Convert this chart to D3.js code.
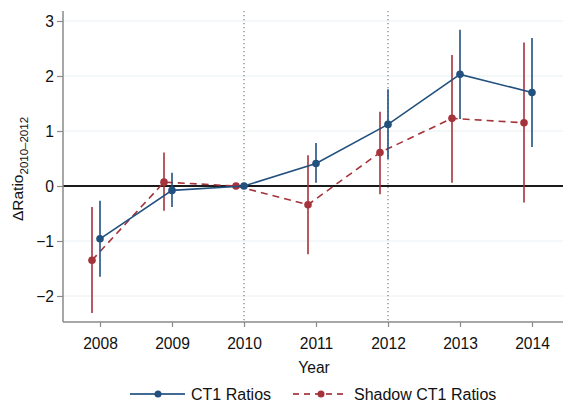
<!DOCTYPE html>
<html>
<head>
<meta charset="utf-8">
<script src="https://cdn.jsdelivr.net/npm/d3@7"></script>
<style>
  body { margin: 0; background: #fff; }
  svg text { font-family: "Liberation Sans", Arial, sans-serif; fill: #111; }
</style>
</head>
<body>
<svg id="chart" width="563" height="401"></svg>
<script>
// Event-study estimates of the change in capital ratios relative to 2010–2012
const years = [2008, 2009, 2010, 2011, 2012, 2013, 2014];

const ct1Est   = [-0.96, -0.08, 0, 0.41, 1.12, 2.03, 1.70];
const ct1Low   = [-1.65, -0.38, 0, 0.06, 0.49, 1.22, 0.71];
const ct1High  = [-0.27,  0.24, 0, 0.78, 1.76, 2.84, 2.69];

const shadowEst  = [-1.35, 0.07, 0, -0.34, 0.61, 1.23, 1.15];
const shadowLow  = [-2.31, -0.45, 0, -1.24, -0.15, 0.06, -0.30];
const shadowHigh = [-0.38, 0.61, 0, 0.56, 1.35, 2.38, 2.61];

const yTicks = [-2, -1, 0, 1, 2, 3];
const markerYears = [2010, 2012];

const seriesNames = ["CT1 Ratios", "Shadow CT1 Ratios"];

const svg = d3.select("#chart");
const axisColor = "#8a8a8a";
const blue = "#22507f";
const red = "#a5333b";
const tickFont = 15.6;

const x = d3.scaleLinear().domain([2007.5, 2014.5]).range([64, 568]);
const y = d3.scaleLinear().domain([-2, 3]).range([296, 21]);
const plotTop = 11, plotBottom = 322, plotLeft = 63, plotRight = 563;

// horizontal grid
svg.append("g").selectAll("line").data(yTicks).join("line")
  .attr("x1", plotLeft).attr("x2", plotRight)
  .attr("y1", d => y(d)).attr("y2", d => y(d))
  .attr("stroke", "#e9f0f3").attr("stroke-width", 1);

// dotted reference years
svg.append("g").selectAll("line").data(markerYears).join("line")
  .attr("x1", d => x(d)).attr("x2", d => x(d))
  .attr("y1", plotTop).attr("y2", plotBottom)
  .attr("stroke", "#7d7d7d").attr("stroke-width", 1.2)
  .attr("stroke-dasharray", "1.2,2.8");

// zero line
svg.append("line")
  .attr("x1", plotLeft).attr("x2", plotRight)
  .attr("y1", y(0)).attr("y2", y(0))
  .attr("stroke", "#1a1a1a").attr("stroke-width", 2);

// axes
const yAxis = d3.axisLeft(y).tickValues(yTicks).tickSize(6).tickPadding(3)
  .tickFormat(d => d < 0 ? "\u2212" + Math.abs(d) : String(d));
const gy = svg.append("g").attr("transform", `translate(${plotLeft},0)`).call(yAxis);
gy.select(".domain").remove();
gy.append("line").attr("x1", 0).attr("x2", 0).attr("y1", plotTop).attr("y2", plotBottom)
  .attr("stroke", axisColor).attr("stroke-width", 1.5);
gy.selectAll(".tick line").attr("stroke", axisColor).attr("stroke-width", 1.2);
gy.selectAll(".tick text").attr("font-size", tickFont).style("fill", "#111");

const xAxis = d3.axisBottom(x).tickValues(years).tickSize(5).tickPadding(11)
  .tickFormat(d3.format("d"));
const gx = svg.append("g").attr("transform", `translate(0,${plotBottom})`).call(xAxis);
gx.select(".domain").remove();
gx.append("line").attr("x1", plotLeft).attr("x2", plotRight).attr("y1", 0).attr("y2", 0)
  .attr("stroke", axisColor).attr("stroke-width", 1.5);
gx.selectAll(".tick line").attr("stroke", axisColor).attr("stroke-width", 1.2);
gx.selectAll(".tick text").attr("font-size", tickFont).style("fill", "#111");

// axis titles
svg.append("text").attr("x", 314).attr("y", 373).attr("text-anchor", "middle")
  .attr("font-size", tickFont).text("Year");

const yl = svg.append("text")
  .attr("transform", "translate(23,169) rotate(-90)")
  .attr("text-anchor", "middle").attr("font-size", 15.5);
yl.append("tspan").text("\u0394Ratio");
yl.append("tspan").attr("font-size", 11.5).attr("dy", 5).text("2010\u20132012");

// series drawing
function drawSeries(est, lo, hi, offset, color, dashed) {
  const g = svg.append("g");
  const px = (d, i) => x(years[i]) + offset;
  const data = years.map((yr, i) => ({ i, e: est[i], l: lo[i], h: hi[i] }));
  g.append("path")
    .datum(data)
    .attr("fill", "none").attr("stroke", color).attr("stroke-width", 1.6)
    .attr("stroke-dasharray", dashed ? "7,5" : null)
    .attr("d", d3.line().x(d => px(d, d.i)).y(d => y(d.e)));
  g.selectAll("line.ci").data(data.filter(d => d.l !== d.h)).join("line")
    .attr("class", "ci")
    .attr("x1", d => px(d, d.i)).attr("x2", d => px(d, d.i))
    .attr("y1", d => y(d.l)).attr("y2", d => y(d.h))
    .attr("stroke", color).attr("stroke-width", 1.6);
  g.selectAll("circle").data(data).join("circle")
    .attr("cx", d => px(d, d.i)).attr("cy", d => y(d.e))
    .attr("r", 3.8).attr("fill", color);
}

drawSeries(shadowEst, shadowLow, shadowHigh, -8, red, true);
drawSeries(ct1Est, ct1Low, ct1High, 0, blue, false);

// legend
const legend = [
  { name: seriesNames[0], color: blue, dashed: false, x0: 130 },
  { name: seriesNames[1], color: red, dashed: true, x0: 293 }
];
const lg = svg.append("g");
legend.forEach(item => {
  lg.append("line").attr("x1", item.x0).attr("x2", item.x0 + 55)
    .attr("y1", 394).attr("y2", 394)
    .attr("stroke", item.color).attr("stroke-width", 1.8).attr("stroke-opacity", 0.85)
    .attr("stroke-dasharray", item.dashed ? "6,5" : null);
  lg.append("circle").attr("cx", item.x0 + 28).attr("cy", 394).attr("r", 3.5)
    .attr("fill", item.color);
  lg.append("text").attr("x", item.x0 + 61).attr("y", 399.5)
    .attr("font-size", 16).text(item.name);
});
</script>
</body>
</html>
